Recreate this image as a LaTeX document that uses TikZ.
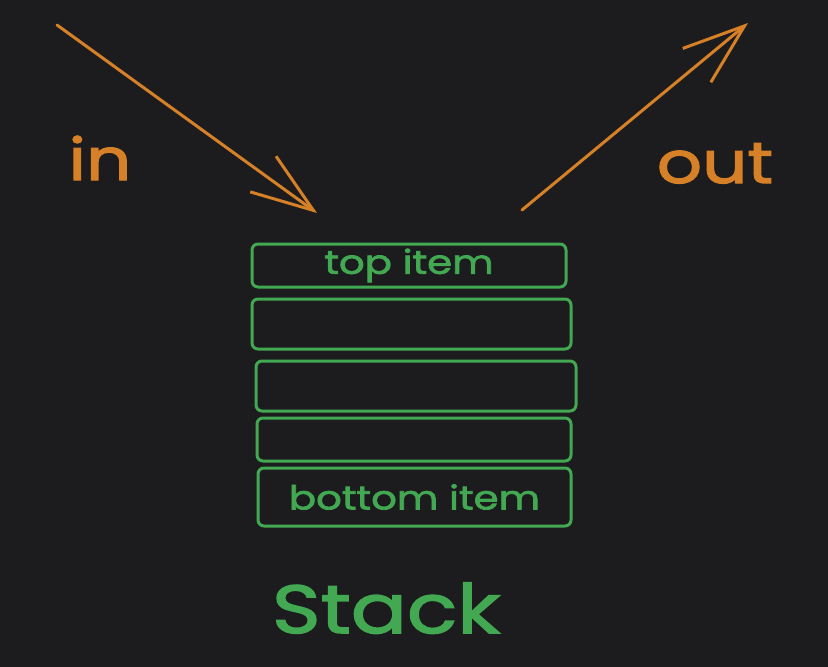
\documentclass[tikz,border=0pt]{standalone}
\usepackage{fontspec}
\usetikzlibrary{arrows.meta}
\newfontfamily\handfont{Poppins}[FakeStretch=1.22,FakeBold=2.2]
\definecolor{bgdark}{RGB}{28,28,30}
\definecolor{stackgreen}{RGB}{66,168,82}
\definecolor{flowamber}{RGB}{214,128,40}
\tikzset{
	slot/.style={draw=stackgreen,line width=3pt,rounded corners=6pt,text=stackgreen,
		inner sep=0pt,font=\handfont\fontsize{33}{36}\selectfont},
	flow/.style={draw=flowamber,line width=3pt,line cap=round,line join=round,
		-{Straight Barb[length=62pt,width=44pt,line width=3pt]}},
	word/.style={anchor=base,font=\handfont\fontsize{58}{64}\selectfont,text=flowamber}
}
\begin{document}
\begin{tikzpicture}[x=1pt,y=-1pt]
	% fond
	\fill[bgdark] (0,0) rectangle (828,667);
	\useasboundingbox (0,0) rectangle (828,667);
	% les cases de la pile
	\node[slot,minimum width=314pt,minimum height=43pt] (top) at (409,265.5) {top item};
	\node[slot,minimum width=319pt,minimum height=50pt] (s2) at (411.5,324) {};
	\node[slot,minimum width=320pt,minimum height=50pt] (s3) at (416,386) {};
	\node[slot,minimum width=314pt,minimum height=43pt] (s4) at (414,439.5) {};
	\node[slot,minimum width=313pt,minimum height=58pt] (bottom) at (414.5,497) {bottom item};
	\node[anchor=base,text=stackgreen,font=\handfont\fontsize{68}{74}\selectfont] (title) at (386,633) {Stack};
	% entree et sortie
	\path (57,25) coordinate (in-start)
		(317,213) coordinate (in-end)
		(522,210) coordinate (out-start)
		(748,23) coordinate (out-end);
	\draw[flow] (in-start) -- (in-end);
	\draw[flow] (out-start) -- (out-end);
	\node[word] (inlabel) at (100,180) {in};
	\node[word] (outlabel) at (715,183) {out};
\end{tikzpicture}
\end{document}
